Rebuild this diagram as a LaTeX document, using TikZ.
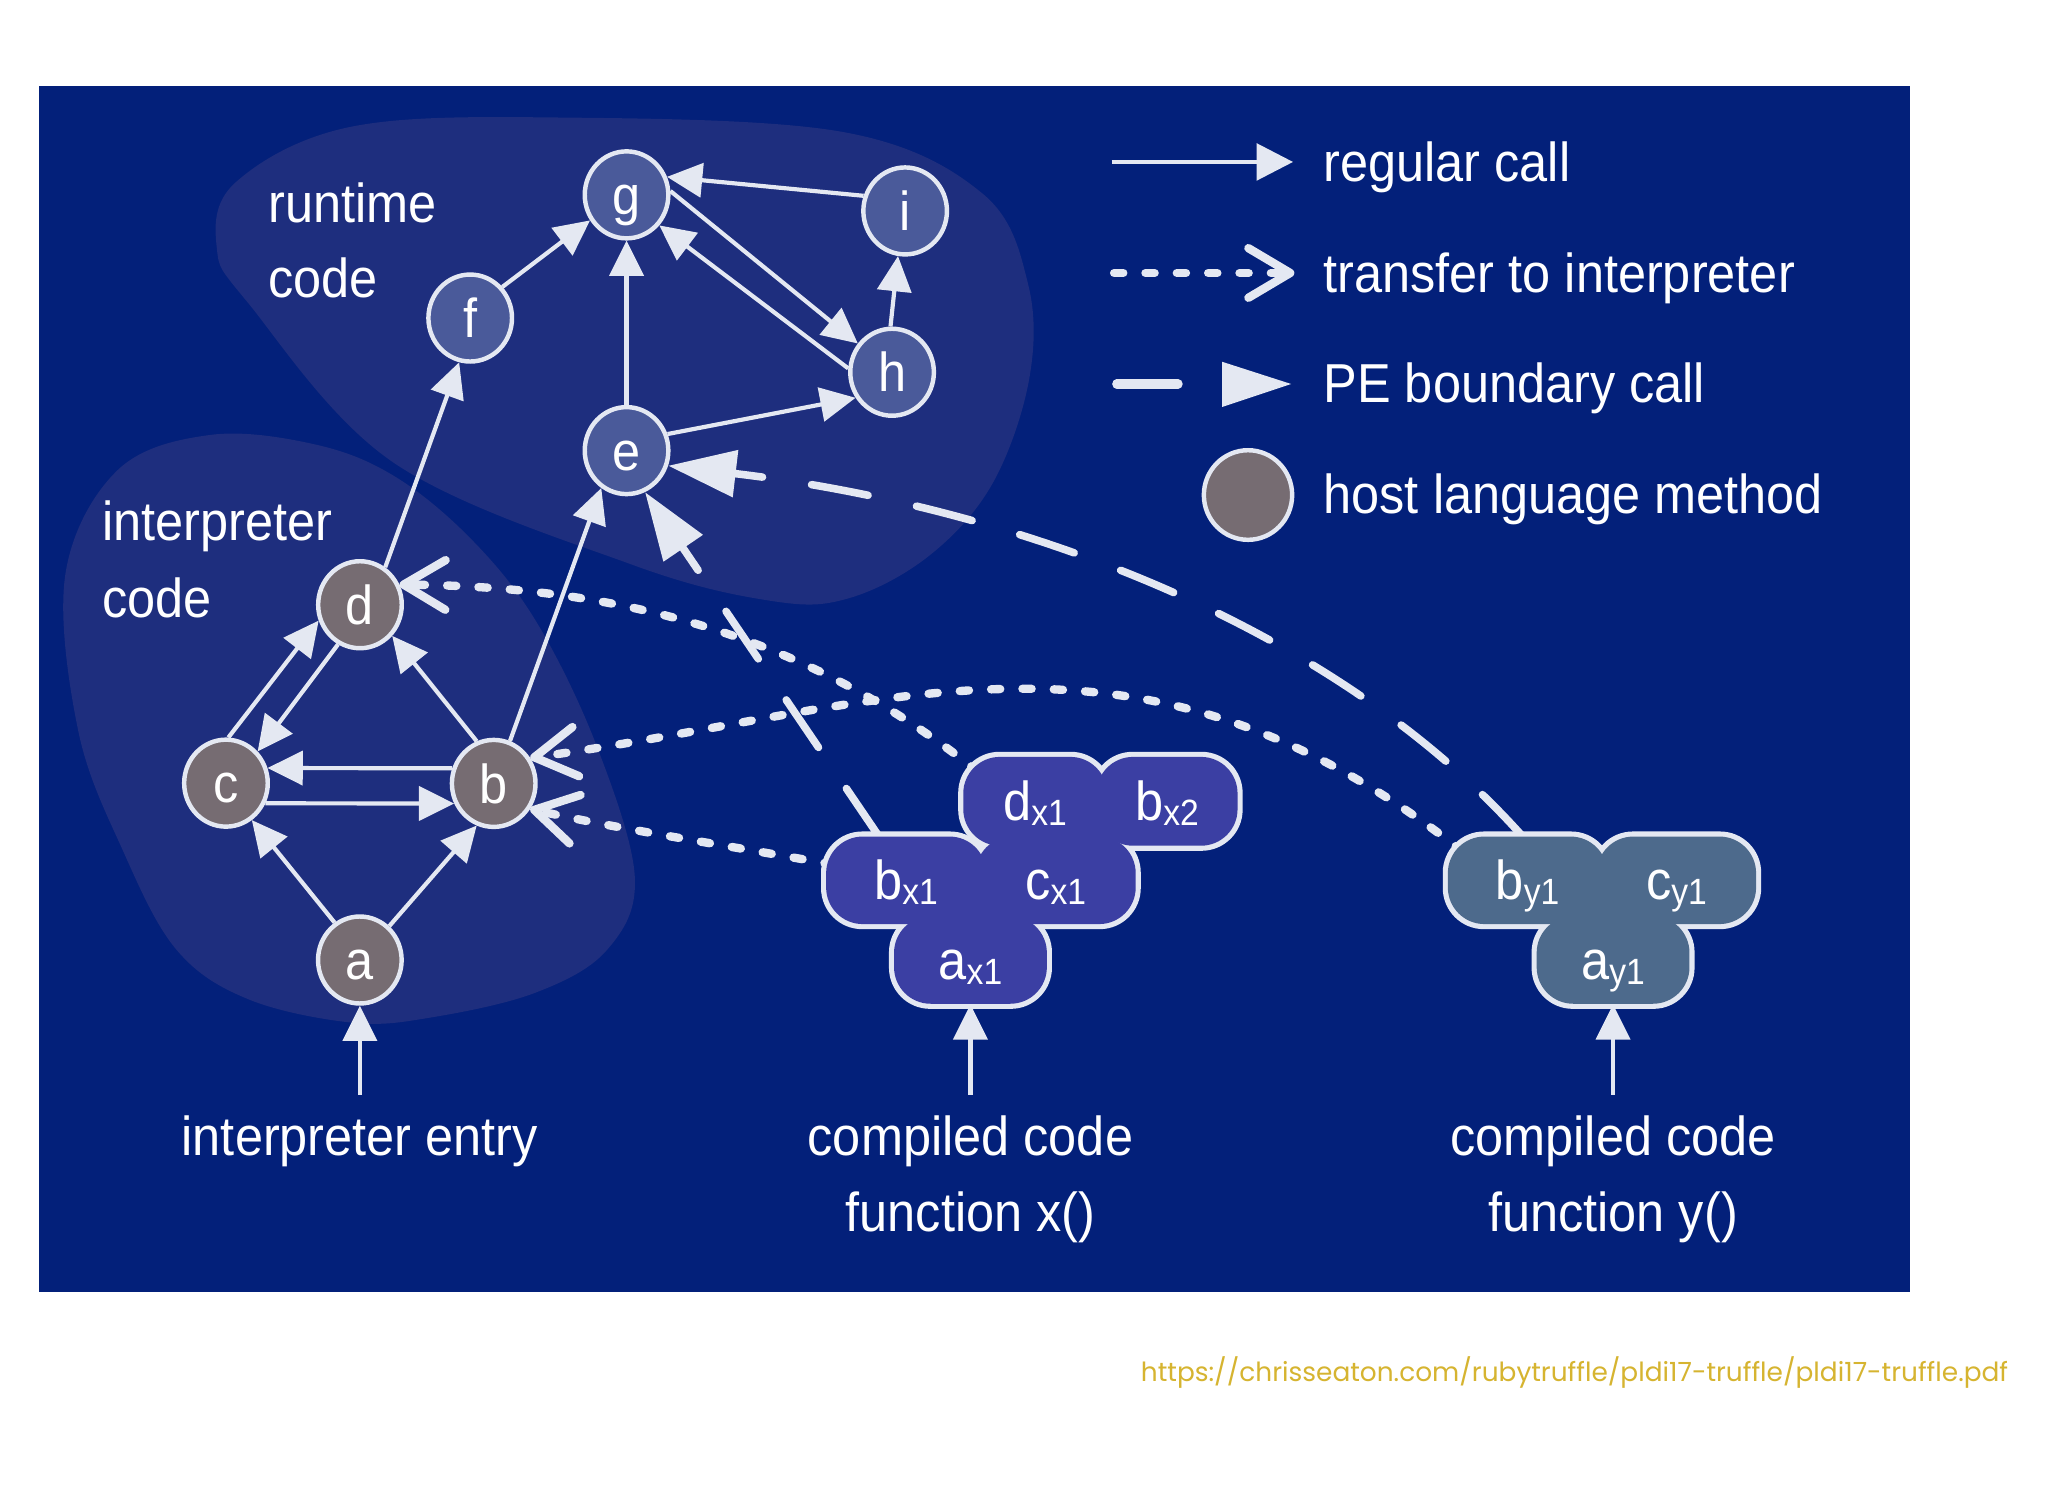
\documentclass[tikz,border=0pt]{standalone}
\usepackage{fontspec}
\setmainfont{Liberation Sans}[FakeStretch=0.92]
\newfontfamily\urlfont{Poppins}
\usetikzlibrary{arrows.meta,shapes.geometric}
\definecolor{navy}{RGB}{3,32,122}
\definecolor{blobc}{RGB}{30,46,126}
\definecolor{rtnode}{RGB}{74,90,154}
\definecolor{hostnode}{RGB}{118,108,114}
\definecolor{edgecol}{RGB}{228,232,242}
\definecolor{xcloud}{RGB}{59,63,163}
\definecolor{ycloud}{RGB}{77,106,140}
\definecolor{urlcol}{RGB}{214,180,48}
\newcommand\mysub[1]{\raisebox{-1.7pt}{\fontsize{14}{15}\selectfont #1}}
\pgfdeclarelayer{bglayer}
\pgfdeclarelayer{edgelayer}
\pgfdeclarelayer{borderlayer}
\pgfsetlayers{bglayer,edgelayer,borderlayer,main}
\tikzset{
  gnode/.style={ellipse, draw=edgecol, line width=1.7pt, minimum width=32pt, minimum height=33.3pt, inner sep=0pt, text=white, text height=15pt, text depth=0pt},
  rt/.style={gnode, fill=rtnode},
  host/.style={gnode, fill=hostnode},
  reg/.style={draw=edgecol, line width=1.6pt, -{Triangle[length=13.5pt,width=13pt]}},
  transfer/.style={draw=edgecol, line width=3.2pt, line cap=round, dash pattern=on 3.5pt off 8.5pt, -{Straight Barb[length=16pt,width=19pt,round]}},
  pe/.style={draw=edgecol, line width=2.9pt, line cap=round, dash pattern=on 22pt off 19pt, -{Triangle[length=26pt,width=17.5pt]}},
  lobe/.style={rectangle, rounded corners=14pt, inner sep=0pt, text=white, text height=15pt, text depth=0pt},
  xl/.style={lobe, fill=xcloud},
  yl/.style={lobe, fill=ycloud},
  lbl/.style={inner sep=0pt, text=white},
}
\begin{document}
\begin{tikzpicture}[x=0.5pt,y=-0.5pt,font=\fontsize{21}{25}\selectfont]
\useasboundingbox (0,0) rectangle (1568,1143);
\begin{pgfonlayer}{bglayer}
\fill[white] (0,0) rectangle (1568,1143);
\fill[navy] (30,66) rectangle (1462,989);
\fill[blobc] plot[smooth cycle, tension=0.6] coordinates {(166,190) (180,140) (269,97) (430,90) (645,101) (752,148) (787,217) (788,290) (760,370) (712,425) (650,458) (590,460) (483,432) (301,354) (190,232)};
\fill[blobc] plot[smooth cycle, tension=0.6] coordinates {(50,440) (90,360) (161,333) (240,340) (301,364) (360,412) (410,475) (456,569) (486,671) (465,727) (410,760) (330,779) (270,783) (190,765) (135,727) (94,651) (60,560)};
\end{pgfonlayer}

% graph nodes
\node[rt] (g) at (479.7,149.2) {g};
\node[rt] (i) at (693,161.5) {i};
\node[rt] (f) at (360,243.5) {f};
\node[rt] (h) at (683,285) {h};
\node[rt] (e) at (479.7,345) {e};
\node[host] (d) at (275.6,463) {d};
\node[host] (c) at (173,599.6) {c};
\node[host] (b) at (378,599.8) {b};
\node[host] (a) at (275.5,735) {a};

% fillers for the inner junctions of the clouds
\fill[xcloud] (835,628) rectangle (852,650);
\fill[xcloud] (742,690) rectangle (760,712);
\fill[ycloud] (1218,690) rectangle (1236,712);

% compiled code clouds
\node[xl, minimum width=55pt, minimum height=34pt] (dx1L) at (792.5,613.5) {d\mysub{x1}};
\node[xl, minimum width=54pt, minimum height=34pt] (bx2L) at (893.5,613.5) {b\mysub{x2}};
\node[xl, minimum width=61.25pt, minimum height=33.5pt] (bx1L) at (693.75,674) {b\mysub{x1}};
\node[xl, minimum width=61.25pt, minimum height=33.5pt] (cx1L) at (808.25,674) {c\mysub{x1}};
\node[xl, minimum width=58.5pt, minimum height=33.5pt] (ax1L) at (743,735) {a\mysub{x1}};
\node[yl, minimum width=61pt, minimum height=33.5pt] (by1L) at (1169.5,674) {b\mysub{y1}};
\node[yl, minimum width=61pt, minimum height=33.5pt] (cy1L) at (1283.5,674) {c\mysub{y1}};
\node[yl, minimum width=58.5pt, minimum height=33.5pt] (ay1L) at (1235,735) {a\mysub{y1}};

\begin{pgfonlayer}{borderlayer}
\foreach \n in {dx1L,bx2L,bx1L,cx1L,ax1L,by1L,cy1L,ay1L}
  \draw[edgecol, line width=3.5pt, rounded corners=14pt] (\n.south west) rectangle (\n.north east);
\end{pgfonlayer}

% entry points
\coordinate (ea) at (275.5,838);
\coordinate (ex) at (743,838);
\coordinate (ey) at (1235,838);

\begin{pgfonlayer}{edgelayer}
% regular calls
\draw[reg] (f.44) -- (g.215);
\draw[reg] (i.160) -- (g.24);
\draw[reg] (g.5) -- (h.140);
\draw[reg] (h.175) -- (g.-43);
\draw[reg] (h.92) -- (i.261);
\draw[reg] (e.90) -- (g.270);
\draw[reg] (e.22) -- (h.215);
\draw[reg] (d.56) -- (f.256);
\draw[reg] (b.69) -- (e.236);
\draw[reg] (c.87) -- (d.201);
\draw[reg] (d.241) -- (c.45);
\draw[reg] (b.112) -- (d.-44);
\draw[reg] (b.160) -- (c.20);
\draw[reg] (c.-27) -- (b.207);
\draw[reg] (a.124) -- (c.-55);
\draw[reg] (a.49) -- (b.248);
\draw[reg] (ea) -- (a);
\draw[reg] (ex) -- (ax1L.south);
\draw[reg] (ey) -- (ay1L.south);
% transfer to interpreter
\draw[transfer] ([shift={(12,12)}]dx1L.north west) .. controls (626,493) and (488,449) .. (d.27);
\draw[transfer] ([shift={(12,12)}]by1L.north west) .. controls (866,453) and (679,543) .. (b.35);
\draw[transfer] ([shift={(6,-12)}]bx1L.west) .. controls (560,648) and (470,634) .. (b.-35);
% PE boundary calls
\draw[pe] ([shift={(-4,0)}]by1L.north) .. controls (1017,474) and (770,387) .. (e.-20);
\draw[pe] ([shift={(-21,0)}]bx1L.north) -- (e.-66);
\end{pgfonlayer}

% region labels
\node[lbl, anchor=base west] (rt1) at (205,170) {runtime};
\node[lbl, anchor=base west] (rt2) at (205,228) {code};
\node[lbl, anchor=base west] (it1) at (78,414) {interpreter};
\node[lbl, anchor=base west] (it2) at (78,473) {code};

% bottom labels
\node[lbl, anchor=base] (lent) at (275.5,885) {interpreter entry};
\node[lbl, anchor=base] (lx1) at (743,885) {compiled code};
\node[lbl, anchor=base] (lx2) at (743,943) {function x()};
\node[lbl, anchor=base] (ly1) at (1235,885) {compiled code};
\node[lbl, anchor=base] (ly2) at (1235,943) {function y()};

% legend
\coordinate (l1a) at (851,124);
\coordinate (l1b) at (990,124);
\draw[reg, -{Triangle[length=14pt,width=14pt]}] (l1a) -- (l1b);
\coordinate (l2a) at (853,209);
\coordinate (l2b) at (991,209);
\draw[transfer] (l2a) -- (l2b);
\coordinate (l3a) at (855,294);
\coordinate (l3b) at (902,294);
\draw[edgecol, line width=3.5pt, line cap=round] (l3a) -- (l3b);
\fill[edgecol] (935.7,277) -- (988.5,294) -- (935.7,311.6) -- cycle;
\node[gnode, fill=hostnode, minimum width=33.8pt, minimum height=34.3pt] (lh) at (955.5,379) {};
\node[lbl, anchor=base west] (t1) at (1013,139) {regular call};
\node[lbl, anchor=base west] (t2) at (1013,224) {transfer to interpreter};
\node[lbl, anchor=base west] (t3) at (1013,308) {PE boundary call};
\node[lbl, anchor=base west] (t4) at (1013,393) {host language method};

% source
\node[inner sep=0pt, anchor=base] (src) at (1205.5,1058) {\resizebox{332pt}{!}{\urlfont\color{urlcol}https://chrisseaton.com/rubytruffle/pldi17-truffle/pldi17-truffle.pdf}};
\end{tikzpicture}
\end{document}
